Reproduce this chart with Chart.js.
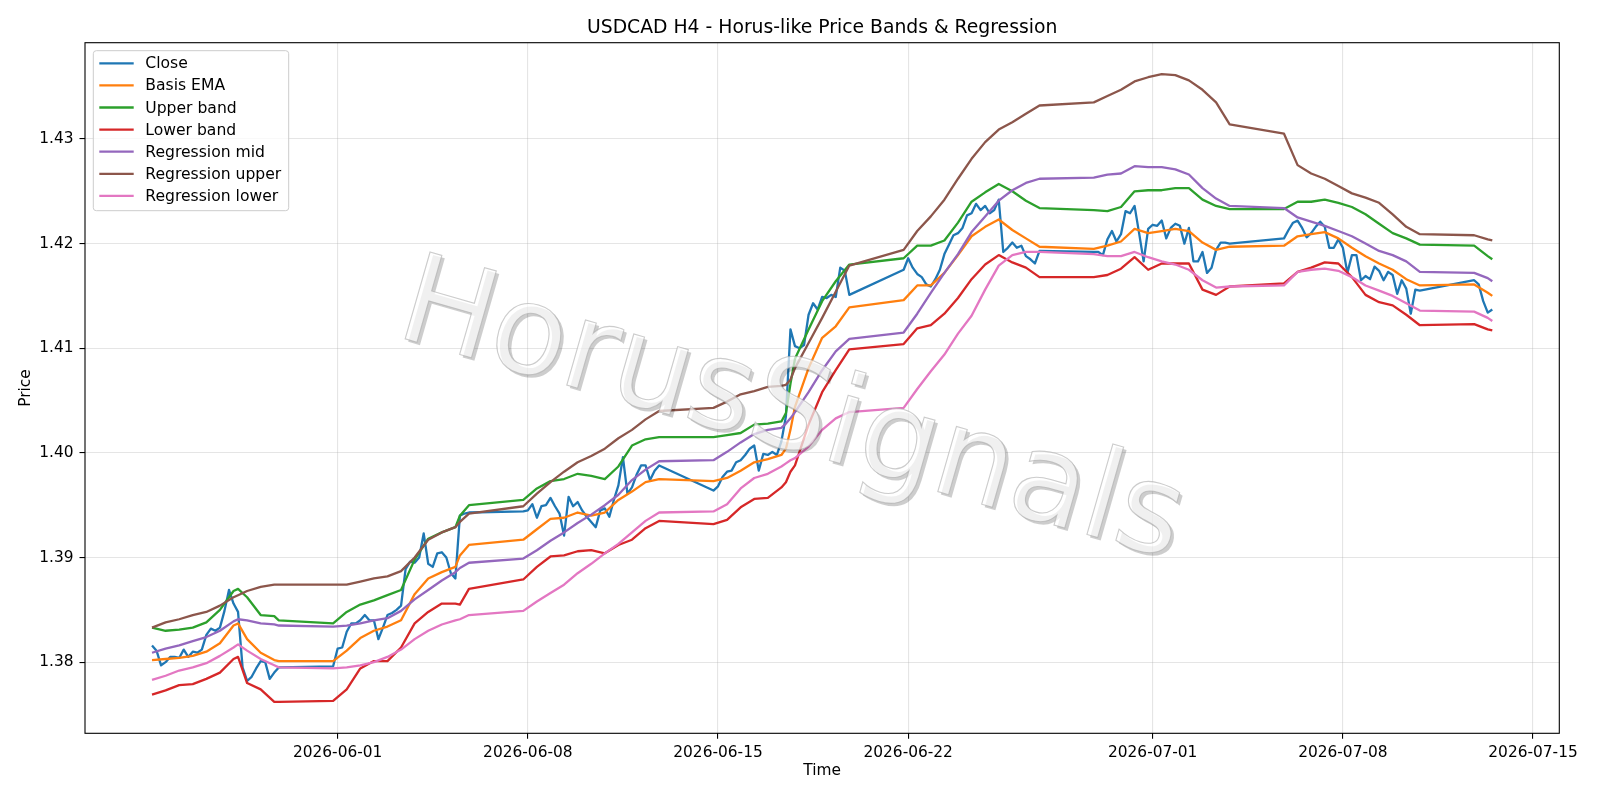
<!DOCTYPE html>
<html>
<head>
<meta charset="utf-8">
<title>USDCAD H4 - Horus-like Price Bands & Regression</title>
<script src="https://cdn.jsdelivr.net/npm/chart.js@4.4.1/dist/chart.umd.min.js"></script>
<style>
  html, body { margin: 0; padding: 0; background: #fff; }
  canvas { display: block; }
</style>
</head>
<body>
<canvas id="chart" width="1600" height="800"></canvas>
<script>
// time is counted in hours from 2026-06-01 00:00, one bar every 4 hours
const weekStartHours = [-164, -4, 164, 332, 500, 668, 836, 1004];
const weekBarCounts = [29, 31, 31, 31, 31, 31, 31, 5];

const closePrices = [
  // May 25 - May 29
  1.3816, 1.3811, 1.3797, 1.3800, 1.3805, 1.3805, 1.3804, 1.3812, 1.3805, 1.3810,
  1.3809, 1.3812, 1.3826, 1.3832, 1.3830, 1.3833, 1.3849, 1.3869, 1.3856, 1.3848,
  1.3795, 1.3782, 1.3786, 1.3794, 1.3801, 1.3800, 1.3784, 1.3790, 1.3795,
  // May 31 - Jun 5
  1.3796, 1.3813, 1.3814, 1.3829, 1.3837, 1.3837, 1.3840, 1.3845, 1.3840, 1.3840,
  1.3822, 1.3833, 1.3845, 1.3847, 1.3850, 1.3854, 1.3889, 1.3896, 1.3895, 1.3900,
  1.3923, 1.3894, 1.3891, 1.3904, 1.3905, 1.3900, 1.3885, 1.3880, 1.3940, 1.3942,
  1.3943,
  // Jun 7 - Jun 12
  1.3944, 1.3945, 1.3951, 1.3938, 1.3949, 1.3950, 1.3957, 1.3949, 1.3942, 1.3921,
  1.3958, 1.3949, 1.3953, 1.3945, 1.3939, 1.3934, 1.3929, 1.3945, 1.3947, 1.3939,
  1.3955, 1.3969, 1.3996, 1.3961, 1.3967, 1.3979, 1.3988, 1.3988, 1.3974, 1.3983,
  1.3988,
  // Jun 14 - Jun 19
  1.3964, 1.3968, 1.3977, 1.3982, 1.3983, 1.3991, 1.3993, 1.3998, 1.4004, 1.4007,
  1.3983, 1.3999, 1.3998, 1.4001, 1.3998, 1.4011, 1.4035, 1.4118, 1.4102, 1.4100,
  1.4103, 1.4132, 1.4143, 1.4137, 1.4149, 1.4148, 1.4151, 1.4149, 1.4177, 1.4174,
  1.4151,
  // Jun 21 - Jun 26
  1.4175, 1.4186, 1.4177, 1.4171, 1.4168, 1.4161, 1.4159, 1.4166, 1.4175, 1.4190,
  1.4199, 1.4208, 1.4210, 1.4215, 1.4227, 1.4229, 1.4238, 1.4232, 1.4236, 1.4229,
  1.4232, 1.4242, 1.4192, 1.4196, 1.4201, 1.4196, 1.4198, 1.4188, 1.4185, 1.4181,
  1.4193,
  // Jun 28 - Jul 3
  1.4192, 1.4192, 1.4189, 1.4204, 1.4212, 1.4202, 1.4209, 1.4231, 1.4229, 1.4236,
  1.4210, 1.4183, 1.4214, 1.4218, 1.4217, 1.4222, 1.4205, 1.4215, 1.4219, 1.4217,
  1.4200, 1.4215, 1.4183, 1.4183, 1.4192, 1.4172, 1.4177, 1.4194, 1.4201, 1.4201,
  1.4200,
  // Jul 5 - Jul 10
  1.4205, 1.4213, 1.4220, 1.4222, 1.4215, 1.4206, 1.4210, 1.4216, 1.4221, 1.4216,
  1.4196, 1.4196, 1.4204, 1.4196, 1.4172, 1.4189, 1.4189, 1.4165, 1.4169, 1.4166,
  1.4178, 1.4174, 1.4165, 1.4173, 1.4170, 1.4152, 1.4165, 1.4157, 1.4133, 1.4156,
  1.4155,
  // Jul 12 - Jul 13
  1.4165, 1.4161, 1.4145, 1.4134, 1.4137
];

// the smooth lines, read every 12 hours (plus a few corners)
const bandHours = [
  -164, -152, -140, -128, -116, -104, -92, -88, -80, -68, -56, -52,
  -4, 8, 20, 32, 44, 56, 68, 80, 92, 104, 108, 116,
  164, 176, 188, 200, 212, 224, 236, 248, 260, 272, 284,
  332, 344, 356, 368, 380, 392, 396, 400, 404, 416, 428, 440, 452,
  500, 512, 524, 536, 548, 560, 572, 584, 596, 608, 620,
  668, 680, 692, 704, 716, 728, 740, 752, 764, 776, 788,
  836, 848, 860, 872, 884, 896, 908, 920, 932, 944, 956,
  1004, 1016, 1020
];

const basisEma = [
  1.3802, 1.3803, 1.3804, 1.3806, 1.3810, 1.3818, 1.3835, 1.3837, 1.3822, 1.3809, 1.3802, 1.3801,
  1.3801, 1.3811, 1.3823, 1.3830, 1.3834, 1.3840, 1.3865, 1.3880, 1.3886, 1.3891, 1.3902, 1.3912,
  1.3917, 1.3927, 1.3937, 1.3938, 1.3943, 1.3940, 1.3943, 1.3955, 1.3963, 1.3972, 1.3975,
  1.3973, 1.3976, 1.3983, 1.3991, 1.3994, 1.3998, 1.4004, 1.4022, 1.4044, 1.4081, 1.4110, 1.4121, 1.4139,
  1.4146, 1.4160, 1.4160, 1.4172, 1.4189, 1.4207, 1.4216, 1.4223, 1.4213, 1.4205, 1.4197,
  1.4195, 1.4198, 1.4202, 1.4214, 1.4210, 1.4212, 1.4214, 1.4212, 1.4201, 1.4194, 1.4197,
  1.4198, 1.4207, 1.4209, 1.4211, 1.4205, 1.4196, 1.4188, 1.4181, 1.4175, 1.4166, 1.4160,
  1.4161, 1.4153, 1.4150
];

const upperBand = [
  1.3833, 1.3830, 1.3831, 1.3833, 1.3838, 1.3850, 1.3868, 1.3870, 1.3862, 1.3845, 1.3844, 1.3840,
  1.3837, 1.3848, 1.3855, 1.3859, 1.3864, 1.3869, 1.3898, 1.3918, 1.3924, 1.3929, 1.3940, 1.3950,
  1.3955, 1.3966, 1.3973, 1.3975, 1.3980, 1.3978, 1.3975, 1.3987, 1.4007, 1.4013, 1.4015,
  1.4015, 1.4017, 1.4019, 1.4027, 1.4028, 1.4030, 1.4038, 1.4066, 1.4090, 1.4118, 1.4145, 1.4164, 1.4180,
  1.4186, 1.4198, 1.4198, 1.4203, 1.4220, 1.4240, 1.4249, 1.4257, 1.4250, 1.4241, 1.4234,
  1.4232, 1.4231, 1.4235, 1.4250, 1.4251, 1.4251, 1.4253, 1.4253, 1.4242, 1.4236, 1.4233,
  1.4233, 1.4240, 1.4240, 1.4242, 1.4239, 1.4235, 1.4228, 1.4219, 1.4210, 1.4205, 1.4199,
  1.4198, 1.4188, 1.4185
];

const lowerBand = [
  1.3769, 1.3773, 1.3778, 1.3779, 1.3784, 1.3790, 1.3803, 1.3805, 1.3780, 1.3774, 1.3762, 1.3762,
  1.3763, 1.3774, 1.3794, 1.3801, 1.3801, 1.3814, 1.3837, 1.3848, 1.3856, 1.3856, 1.3855, 1.3870,
  1.3879, 1.3891, 1.3901, 1.3902, 1.3906, 1.3907, 1.3904, 1.3912, 1.3917, 1.3928, 1.3935,
  1.3932, 1.3936, 1.3948, 1.3956, 1.3957, 1.3967, 1.3972, 1.3982, 1.3988, 1.4027, 1.4058, 1.4079, 1.4099,
  1.4104, 1.4119, 1.4122, 1.4133, 1.4148, 1.4166, 1.4180, 1.4189, 1.4182, 1.4177, 1.4168,
  1.4168, 1.4170, 1.4176, 1.4187, 1.4175, 1.4181, 1.4181, 1.4181, 1.4156, 1.4151, 1.4159,
  1.4162, 1.4173, 1.4177, 1.4182, 1.4181, 1.4168, 1.4151, 1.4144, 1.4141, 1.4132, 1.4122,
  1.4123, 1.4118, 1.4117
];

const regMid = [
  1.3809, 1.3813, 1.3816, 1.3820, 1.3824, 1.3830, 1.3839, 1.3841, 1.3840, 1.3837, 1.3836, 1.3835,
  1.3834, 1.3835, 1.3837, 1.3840, 1.3842, 1.3849, 1.3860, 1.3869, 1.3878, 1.3886, 1.3890, 1.3895,
  1.3899, 1.3907, 1.3916, 1.3924, 1.3933, 1.3941, 1.3950, 1.3960, 1.3974, 1.3984, 1.3992,
  1.3993, 1.4001, 1.4010, 1.4018, 1.4022, 1.4024, 1.4028, 1.4033, 1.4039, 1.4058, 1.4079, 1.4097, 1.4109,
  1.4115, 1.4133, 1.4153, 1.4172, 1.4190, 1.4211, 1.4226, 1.4241, 1.4251, 1.4258, 1.4262,
  1.4263, 1.4266, 1.4267, 1.4274, 1.4273, 1.4273, 1.4271, 1.4266, 1.4253, 1.4243, 1.4236,
  1.4234, 1.4225, 1.4221, 1.4217, 1.4212, 1.4207, 1.4200, 1.4193, 1.4189, 1.4183, 1.4173,
  1.4172, 1.4167, 1.4164
];

const regUpper = [
  1.3833, 1.3838, 1.3841, 1.3845, 1.3848, 1.3854, 1.3862, 1.3864, 1.3868, 1.3872, 1.3874, 1.3874,
  1.3874, 1.3874, 1.3877, 1.3880, 1.3882, 1.3887, 1.3900, 1.3917, 1.3924, 1.3929, 1.3934, 1.3942,
  1.3949, 1.3961, 1.3972, 1.3982, 1.3991, 1.3997, 1.4004, 1.4014, 1.4022, 1.4032, 1.4040,
  1.4043, 1.4049, 1.4056, 1.4059, 1.4063, 1.4064, 1.4065, 1.4070, 1.4081, 1.4105, 1.4129, 1.4154, 1.4179,
  1.4194, 1.4212, 1.4226, 1.4242, 1.4262, 1.4281, 1.4297, 1.4309, 1.4316, 1.4324, 1.4332,
  1.4335, 1.4341, 1.4347, 1.4355, 1.4359, 1.4362, 1.4361, 1.4356, 1.4347, 1.4335, 1.4314,
  1.4305, 1.4275, 1.4267, 1.4262, 1.4255, 1.4248, 1.4244, 1.4239, 1.4228, 1.4216, 1.4209,
  1.4208, 1.4204, 1.4203
];

const regLower = [
  1.3783, 1.3787, 1.3792, 1.3795, 1.3799, 1.3806, 1.3814, 1.3817, 1.3811, 1.3803, 1.3797, 1.3795,
  1.3794, 1.3795, 1.3797, 1.3800, 1.3805, 1.3812, 1.3822, 1.3830, 1.3836, 1.3840, 1.3841, 1.3845,
  1.3849, 1.3858, 1.3866, 1.3874, 1.3885, 1.3894, 1.3904, 1.3913, 1.3924, 1.3935, 1.3943,
  1.3944, 1.3951, 1.3966, 1.3976, 1.3980, 1.3987, 1.3990, 1.3993, 1.3995, 1.4006, 1.4022, 1.4033, 1.4039,
  1.4043, 1.4061, 1.4078, 1.4094, 1.4114, 1.4131, 1.4156, 1.4179, 1.4189, 1.4192, 1.4192,
  1.4190, 1.4188, 1.4188, 1.4192, 1.4187, 1.4183, 1.4180, 1.4175, 1.4165, 1.4158, 1.4159,
  1.4160, 1.4173, 1.4175, 1.4176, 1.4174, 1.4168, 1.4160, 1.4155, 1.4150, 1.4143, 1.4136,
  1.4135, 1.4129, 1.4126
];

const seriesNames = ['Close', 'Basis EMA', 'Upper band', 'Lower band', 'Regression mid', 'Regression upper', 'Regression lower'];
const seriesColors = ['#1f77b4', '#ff7f0e', '#2ca02c', '#d62728', '#9467bd', '#8c564b', '#e377c2'];

const xTickDays = [0, 7, 14, 21, 30, 37, 44];
const xTickLabels = ['2026-06-01', '2026-06-08', '2026-06-15', '2026-06-22', '2026-07-01', '2026-07-08', '2026-07-15'];
const yTickValues = [1.38, 1.39, 1.40, 1.41, 1.42, 1.43];
const yTickLabels = ['1.38', '1.39', '1.40', '1.41', '1.42', '1.43'];

const chartTitle = 'USDCAD H4 - Horus-like Price Bands & Regression';
const watermark = 'HorusSignals';


// Close points, one per bar inside each trading week
const closePoints = [];
let n = 0;
weekStartHours.forEach((h0, w) => {
    for (let i = 0; i < weekBarCounts[w]; i++) {
        closePoints.push({ x: (h0 + 4 * i) / 24, y: closePrices[n++] });
    }
});
const bandPoints = vals => vals.map((v, i) => ({ x: bandHours[i] / 24, y: v }));

const allSeries = [closePoints, bandPoints(basisEma), bandPoints(upperBand), bandPoints(lowerBand),
    bandPoints(regMid), bandPoints(regUpper), bandPoints(regLower)];

// matplotlib style 5% margins
const xs = closePoints.map(p => p.x);
const ys = [].concat(closePrices, basisEma, upperBand, lowerBand, regMid, regUpper, regLower);
const xLo = Math.min(...xs), xHi = Math.max(...xs);
const yLo = Math.min(...ys), yHi = Math.max(...ys);
const xPad = (xHi - xLo) * 0.05, yPad = (yHi - yLo) * 0.05;

const FONT = '"DejaVu Sans", sans-serif';
const LABEL_SIZE = 15.4;


// frame, titles, legend and watermark drawn on top
const decorations = {
    id: 'decorations',
    afterDraw(chart) {
        const { ctx, chartArea: a } = chart;
        ctx.save();

        ctx.strokeStyle = '#000';
        ctx.lineWidth = 1.1;
        ctx.strokeRect(a.left, a.top, a.right - a.left, a.bottom - a.top);

        ctx.fillStyle = '#000';
        ctx.textAlign = 'center';
        ctx.textBaseline = 'alphabetic';
        ctx.font = '18.8px ' + FONT;
        ctx.fillText(chartTitle, (a.left + a.right) / 2, 33.3);

        ctx.font = LABEL_SIZE + 'px ' + FONT;
        ctx.textBaseline = 'middle';
        ctx.fillText('Time', (a.left + a.right) / 2, 771);
        ctx.save();
        ctx.translate(25.5, (a.top + a.bottom) / 2);
        ctx.rotate(-Math.PI / 2);
        ctx.fillText('Price', 0, 0);
        ctx.restore();

        // legend box
        const lx = 93.3, ly = 50.7, lw = 195.4, lh = 160, r = 3;
        ctx.beginPath();
        ctx.moveTo(lx + r, ly);
        ctx.arcTo(lx + lw, ly, lx + lw, ly + lh, r);
        ctx.arcTo(lx + lw, ly + lh, lx, ly + lh, r);
        ctx.arcTo(lx, ly + lh, lx, ly, r);
        ctx.arcTo(lx, ly, lx + lw, ly, r);
        ctx.closePath();
        ctx.fillStyle = 'rgba(255,255,255,0.8)';
        ctx.fill();
        ctx.strokeStyle = '#cccccc';
        ctx.lineWidth = 1;
        ctx.stroke();

        ctx.textAlign = 'left';
        ctx.font = '15.6px ' + FONT;
        seriesNames.forEach((name, i) => {
            const y = 63.3 + 22.1 * i;
            ctx.strokeStyle = seriesColors[i];
            ctx.lineWidth = 2.3;
            ctx.beginPath();
            ctx.moveTo(99.3, y);
            ctx.lineTo(133.7, y);
            ctx.stroke();
            ctx.fillStyle = '#000';
            ctx.fillText(name, 145.3, y + 1);
        });

        // watermark
        ctx.translate(791, 416);
        ctx.rotate(16 * Math.PI / 180);
        ctx.font = '124px ' + FONT;
        ctx.textAlign = 'center';
        ctx.textBaseline = 'middle';
        ctx.shadowColor = 'rgba(0,0,0,0.28)';
        ctx.shadowOffsetX = 3;
        ctx.shadowOffsetY = 3;
        ctx.fillStyle = 'rgba(255,255,255,0.7)';
        ctx.fillText(watermark, 0, 0);
        ctx.shadowColor = 'transparent';
        ctx.strokeStyle = 'rgba(170,170,170,0.6)';
        ctx.lineWidth = 1.1;
        ctx.strokeText(watermark, 0, 0);

        ctx.restore();
    }
};

new Chart(document.getElementById('chart'), {
    type: 'line',
    data: {
        datasets: allSeries.map((pts, i) => ({
            label: seriesNames[i],
            data: pts,
            borderColor: seriesColors[i],
            backgroundColor: seriesColors[i],
            borderWidth: 2.3,
            pointRadius: 0,
            tension: 0,
            fill: false,
            borderJoinStyle: 'round',
            order: seriesNames.length - i
        }))
    },
    options: {
        responsive: false,
        animation: false,
        layout: { padding: { left: 0, right: 40.7, top: 42.7, bottom: 0 } },
        plugins: { legend: { display: false }, title: { display: false }, tooltip: { enabled: false } },
        scales: {
            x: {
                type: 'linear',
                min: xLo - xPad,
                max: xHi + xPad,
                afterBuildTicks: s => { s.ticks = xTickDays.map(v => ({ value: v })); },
                afterFit: s => { s.height = 66.7; },
                ticks: {
                    callback: (v, i) => xTickLabels[i],
                    autoSkip: false, maxRotation: 0, minRotation: 0,
                    color: '#000', font: { family: FONT, size: LABEL_SIZE }, padding: 5
                },
                grid: { color: 'rgba(176,176,176,0.33)', lineWidth: 1.1, tickColor: '#000', tickLength: 5.5, tickWidth: 1.1 },
                border: { display: false }
            },
            y: {
                type: 'linear',
                min: yLo - yPad,
                max: yHi + yPad,
                afterBuildTicks: s => { s.ticks = yTickValues.map(v => ({ value: v })); },
                afterFit: s => { s.width = 85; },
                ticks: {
                    callback: (v, i) => yTickLabels[i],
                    color: '#000', font: { family: FONT, size: LABEL_SIZE }, padding: 6
                },
                grid: { color: 'rgba(176,176,176,0.33)', lineWidth: 1.1, tickColor: '#000', tickLength: 5.5, tickWidth: 1.1 },
                border: { display: false }
            }
        }
    },
    plugins: [decorations]
});
</script>
</body>
</html>
